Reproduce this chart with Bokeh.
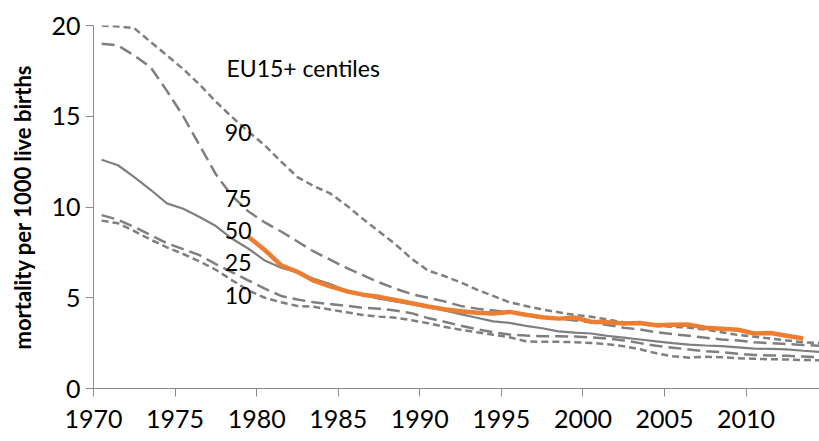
from bokeh.plotting import figure
from bokeh.models import FixedTicker, Label, Range1d, ColumnDataSource
from bokeh.embed import file_html
from bokeh.resources import INLINE

years = list(range(1970, 2015))

p90 = [20.0, 19.95, 19.85, 19.1, 18.35, 17.6, 16.75, 15.8, 14.95, 14.15,
       13.4, 12.5, 11.65, 11.15, 10.75, 10.1, 9.35, 8.65, 7.95, 7.15,
       6.5, 6.2, 5.85, 5.45, 5.1, 4.75, 4.55, 4.35, 4.2, 4.05,
       3.95, 3.8, 3.65, 3.55, 3.45, 3.4, 3.35, 3.25, 3.1, 2.95,
       2.85, 2.75, 2.65, 2.55, 2.5]
p75 = [19.0, 18.9, 18.35, 17.7, 16.4, 15.0, 13.4, 11.8, 10.6, 9.75,
       9.15, 8.65, 8.1, 7.55, 7.1, 6.65, 6.25, 5.85, 5.5, 5.2,
       5.0, 4.8, 4.55, 4.4, 4.3, 4.2, 4.1, 3.95, 3.85, 3.75,
       3.65, 3.5, 3.35, 3.25, 3.1, 3.0, 2.9, 2.8, 2.7, 2.65,
       2.55, 2.5, 2.45, 2.4, 2.35]
p50 = [12.6, 12.3, 11.65, 10.95, 10.2, 9.9, 9.45, 8.95, 8.25, 7.7,
       7.05, 6.65, 6.4, 6.05, 5.75, 5.4, 5.15, 4.95, 4.8, 4.65,
       4.5, 4.3, 4.1, 3.9, 3.7, 3.62, 3.45, 3.32, 3.15, 3.08,
       3.03, 2.9, 2.8, 2.7, 2.6, 2.5, 2.42, 2.37, 2.33, 2.27,
       2.2, 2.18, 2.16, 2.08, 2.02]
p25 = [9.55, 9.3, 8.9, 8.45, 8.0, 7.68, 7.35, 6.85, 6.4, 5.95,
       5.5, 5.1, 4.9, 4.75, 4.65, 4.56, 4.45, 4.4, 4.3, 4.15,
       3.88, 3.68, 3.46, 3.27, 3.1, 2.97, 2.92, 2.88, 2.88, 2.86,
       2.82, 2.75, 2.65, 2.5, 2.35, 2.25, 2.15, 2.05, 2.0, 1.92,
       1.85, 1.82, 1.8, 1.76, 1.72]
p10 = [9.25, 9.1, 8.67, 8.2, 7.78, 7.41, 7.0, 6.54, 5.96, 5.4,
       5.0, 4.75, 4.55, 4.5, 4.35, 4.2, 4.05, 3.96, 3.9, 3.76,
       3.6, 3.4, 3.24, 3.1, 2.96, 2.82, 2.6, 2.57, 2.57, 2.55,
       2.51, 2.44, 2.33, 2.16, 1.94, 1.78, 1.7, 1.75, 1.72, 1.67,
       1.64, 1.61, 1.6, 1.57, 1.56]

country_years = list(range(1979, 2014))
country = [8.35, 7.63, 6.79, 6.43, 5.94, 5.63, 5.36, 5.17, 5.05, 4.88,
           4.7, 4.52, 4.37, 4.26, 4.17, 4.13, 4.22, 4.06, 3.93, 3.85,
           3.9, 3.68, 3.65, 3.58, 3.61, 3.49, 3.51, 3.52, 3.35, 3.29,
           3.24, 3.03, 3.06, 2.91, 2.75]

x_ticks = [1970, 1975, 1980, 1985, 1990, 1995, 2000, 2005, 2010]
y_ticks = [0, 5, 10, 15, 20]

centile_labels = ["90", "75", "50", "25", "10"]
centile_label_y = [14.12, 10.47, 8.71, 6.96, 5.12]
title_text = "EU15+ centiles"
y_title = "mortality per 1000 live births"

FONT = "Lato"
GREY = "#7f7f7f"
AXIS = "#8c8c8c"

p = figure(width=819, height=441, output_backend="svg", toolbar_location=None,
           x_range=Range1d(1970, 2014.5), y_range=Range1d(0, 20),
           min_border_left=93, min_border_right=0, min_border_top=25,
           min_border_bottom=53)
p.outline_line_color = None
p.grid.visible = False
p.background_fill_color = "white"
p.border_fill_color = "white"

# yearly values are drawn at the middle of each year slot
xc = [y + 0.5 for y in years]
xo = [y + 0.5 for y in country_years]

src = ColumnDataSource(dict(x=xc, p90=p90, p75=p75, p50=p50, p25=p25, p10=p10))

p.line("x", "p90", source=src, line_color=GREY, line_width=2.5, line_dash="7 4")
p.line("x", "p75", source=src, line_color=GREY, line_width=2.5, line_dash="13 6")
p.line("x", "p50", source=src, line_color=GREY, line_width=2.2)
p.line("x", "p25", source=src, line_color=GREY, line_width=2.5, line_dash="13 6")
p.line("x", "p10", source=src, line_color=GREY, line_width=2.5, line_dash="7 4")
p.line(xo, country, line_color="#ED7D31", line_width=4.5, line_join="round")

for ax in (p.xaxis[0], p.yaxis[0]):
    ax.axis_line_color = AXIS
    ax.major_tick_line_color = AXIS
    ax.minor_tick_line_color = None
    ax.major_tick_in = 0
    ax.major_tick_out = 8
    ax.major_label_text_font = FONT
    ax.major_label_text_font_size = "25px"
    ax.major_label_text_color = "black"

p.xaxis.ticker = FixedTicker(ticks=x_ticks)
p.yaxis.ticker = FixedTicker(ticks=y_ticks)
p.xaxis.major_label_standoff = 13
p.yaxis.major_label_standoff = 5

p.yaxis.axis_label = y_title
p.yaxis.axis_label_text_font = FONT
p.yaxis.axis_label_text_font_style = "bold"
p.yaxis.axis_label_text_font_size = "22px"
p.yaxis.axis_label_text_color = "black"
p.yaxis.axis_label_standoff = 12

p.add_layout(Label(x=1978.15, y=17.67, text=title_text, text_align="left",
                   text_baseline="middle", text_font=FONT, text_font_size="23px",
                   text_color="black"))
for t, yv in zip(centile_labels, centile_label_y):
    p.add_layout(Label(x=1978.05, y=yv, text=t, text_align="left",
                       text_baseline="middle", text_font=FONT,
                       text_font_size="23px", text_color="black"))

open("out.html", "w").write(file_html(p, INLINE))
